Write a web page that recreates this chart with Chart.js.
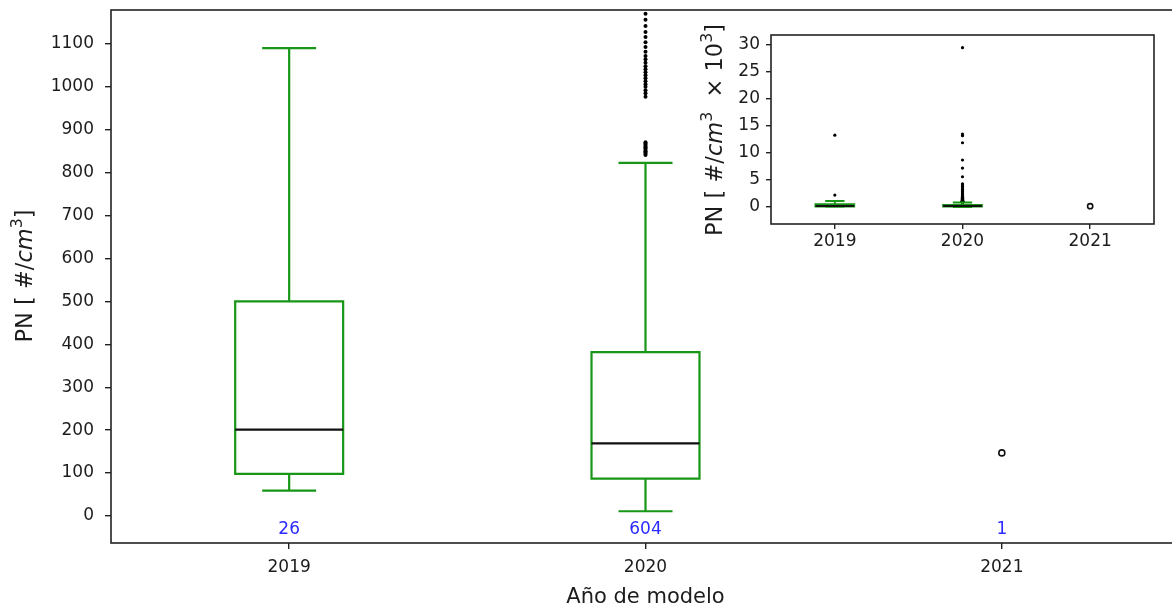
<!DOCTYPE html>
<html>
<head>
<meta charset="utf-8">
<script src="https://cdn.jsdelivr.net/npm/chart.js@4.4.1/dist/chart.umd.min.js"></script>
<style>
  html, body { margin: 0; padding: 0; background: #fff; overflow: hidden; }
  #wrap { position: relative; width: 1172px; height: 612px; overflow: hidden; background: #fff; }
  #main { position: absolute; left: 0; top: 0; width: 1200px; height: 612px; }
  #inset { position: absolute; left: 680px; top: 10px; width: 492px; height: 260px; }
</style>
</head>
<body>
<div id="wrap">
  <canvas id="main" width="1200" height="612"></canvas>
  <canvas id="inset" width="492" height="260"></canvas>
</div>
<script>
// PN particle number by model year, values in #/cm³
const years = ['2019', '2020', '2021'];
const counts = [26, 604, 1];
const q1 = [98, 87, null];
const median = [201, 169, null];
const q3 = [500, 382, null];
const whiskerLow = [59, 11, null];
const whiskerHigh = [1090, 823, null];
const outliers2019 = [2200, 13300];
const outliers2020 = [
  841, 844, 847, 850, 853, 856, 859, 862, 865, 868, 871,
  977, 985, 992, 1000, 1006, 1013, 1020, 1027, 1034, 1041, 1048, 1056, 1064,
  1072, 1082, 1093, 1104, 1116, 1128, 1142, 1156, 1170,
  1200, 1240, 1290, 1350, 1420, 1500, 1600, 1700, 1820, 1950, 2100, 2250,
  2400, 2600, 2800, 3000, 3250, 3500, 3800, 4100, 4300,
  5600, 7200, 8700, 11900, 13200, 13500, 29500
];
const single2021 = [147];
const mainTicks = [0, 100, 200, 300, 400, 500, 600, 700, 800, 900, 1000, 1100];
const insetTicks = [0, 5, 10, 15, 20, 25, 30];

const GREEN = '#179617';
const TEXT = '#1c1c1c';
const FONT = '"DejaVu Sans", sans-serif';

function drawRich(ctx, parts, cx, cy, size) {
  ctx.save();
  ctx.translate(cx, cy);
  ctx.rotate(-Math.PI / 2);
  const fontFor = p => (p.italic ? 'italic ' : '') + (p.sup ? size * 0.7 : size) + 'px ' + FONT;
  let total = 0;
  parts.forEach(p => { ctx.font = fontFor(p); p.w = ctx.measureText(p.t).width; total += p.w; });
  let x = -total / 2;
  ctx.textAlign = 'left';
  ctx.textBaseline = 'alphabetic';
  ctx.fillStyle = TEXT;
  const base = size * 0.365;
  parts.forEach(p => {
    ctx.font = fontFor(p);
    ctx.fillText(p.t, x, base - (p.sup ? size * 0.45 : 0));
    x += p.w;
  });
  ctx.restore();
}

// box outlines, whiskers, caps and medians drawn from the summary arrays through the chart scales;
// the box width comes from the bar elements of dataset 0
function boxPlugin(k, lw) {
  return {
    id: 'boxParts',
    afterDatasetsDraw(chart) {
      const { ctx, chartArea, scales: { x, y } } = chart;
      const meta = chart.getDatasetMeta(0);
      ctx.save();
      ctx.beginPath();
      ctx.rect(chartArea.left, chartArea.top, chartArea.right - chartArea.left, chartArea.bottom - chartArea.top);
      ctx.clip();
      ctx.lineCap = 'butt';
      years.forEach((yr, i) => {
        if (q1[i] == null) return;
        const cx = x.getPixelForValue(i);
        const half = meta.data[i].width / 2;
        const cap = half / 2;
        const yq1 = y.getPixelForValue(q1[i] * k);
        const yq3 = y.getPixelForValue(q3[i] * k);
        const yHi = y.getPixelForValue(whiskerHigh[i] * k);
        const yLo = y.getPixelForValue(whiskerLow[i] * k);
        ctx.strokeStyle = GREEN;
        ctx.lineWidth = lw;
        ctx.beginPath();
        ctx.rect(cx - half, yq3, half * 2, yq1 - yq3);
        ctx.moveTo(cx, yq3);
        ctx.lineTo(cx, yHi);
        ctx.moveTo(cx - cap, yHi);
        ctx.lineTo(cx + cap, yHi);
        ctx.moveTo(cx, yq1);
        ctx.lineTo(cx, yLo);
        ctx.moveTo(cx - cap, yLo);
        ctx.lineTo(cx + cap, yLo);
        ctx.stroke();
        ctx.strokeStyle = '#111';
        ctx.beginPath();
        ctx.moveTo(cx - half, y.getPixelForValue(median[i] * k));
        ctx.lineTo(cx + half, y.getPixelForValue(median[i] * k));
        ctx.stroke();
      });
      ctx.restore();
    }
  };
}

const framePlugin = {
  id: 'frame',
  afterDraw(chart) {
    const { ctx, chartArea: a } = chart;
    ctx.save();
    ctx.strokeStyle = '#222';
    ctx.lineWidth = 1.6;
    ctx.strokeRect(a.left, a.top, a.right - a.left, a.bottom - a.top);
    ctx.restore();
  }
};

function datasets(k, dotR, ringR) {
  const pts = [];
  outliers2019.forEach(v => pts.push({ x: '2019', y: v * k }));
  outliers2020.forEach(v => pts.push({ x: '2020', y: v * k }));
  return [
    {
      type: 'bar',
      data: years.map((_, i) => q1[i] == null ? null : [q1[i] * k, q3[i] * k]),
      backgroundColor: 'rgba(255,255,255,0)',
      borderWidth: 0,
      barPercentage: 0.303,
      categoryPercentage: 1,
      grouped: false
    },
    {
      type: 'line',
      data: pts,
      showLine: false,
      pointRadius: dotR,
      pointBackgroundColor: '#000',
      pointBorderWidth: 0,
      pointHoverRadius: dotR
    },
    {
      type: 'line',
      data: single2021.map(v => ({ x: '2021', y: v * k })),
      showLine: false,
      pointRadius: ringR,
      pointBackgroundColor: '#fff',
      pointBorderColor: '#111',
      pointBorderWidth: 1.6
    }
  ];
}

function scalesFor(yMin, yMax, ticks, yWidth, xHeight, tickLen, yPad, xPad) {
  return {
    x: {
      type: 'category',
      labels: years,
      offset: true,
      border: { display: false },
      grid: { display: true, offset: false, drawOnChartArea: false, drawTicks: true, tickLength: tickLen, color: '#222', lineWidth: 1.4 },
      ticks: { color: TEXT, font: { family: FONT, size: 17 }, padding: xPad, maxRotation: 0 },
      afterFit(s) { s.height = xHeight; s.paddingLeft = 0; s.paddingRight = 0; }
    },
    y: {
      type: 'linear',
      min: yMin,
      max: yMax,
      border: { display: false },
      grid: { display: true, drawOnChartArea: false, drawTicks: true, tickLength: tickLen, color: '#222', lineWidth: 1.4 },
      ticks: { color: TEXT, font: { family: FONT, size: 17 }, padding: yPad, autoSkip: false, callback: v => String(v) },
      afterBuildTicks(s) { s.ticks = ticks.map(v => ({ value: v })); },
      afterFit(s) { s.width = yWidth; s.paddingTop = 0; s.paddingBottom = 0; }
    }
  };
}

const mainLabels = {
  id: 'mainLabels',
  afterDraw(chart) {
    const { ctx, scales: { x, y } } = chart;
    ctx.save();
    ctx.fillStyle = '#2b2bff';
    ctx.font = '17px ' + FONT;
    ctx.textAlign = 'center';
    ctx.textBaseline = 'middle';
    counts.forEach((c, i) => ctx.fillText(String(c), x.getPixelForValue(i), y.getPixelForValue(-32)));
    ctx.fillStyle = TEXT;
    ctx.font = '21px ' + FONT;
    ctx.fillText('Año de modelo', x.getPixelForValue(1), 598);
    ctx.restore();
    drawRich(ctx, [
      { t: 'PN [ #/' }, { t: 'cm', italic: true }, { t: '3', sup: true }, { t: ']' }
    ], 24, 276, 22.5);
  }
};

const insetLabels = {
  id: 'insetLabels',
  beforeDraw(chart) {
    const { ctx, chartArea: a } = chart;
    ctx.save();
    ctx.fillStyle = '#fff';
    ctx.fillRect(a.left, a.top, a.right - a.left, a.bottom - a.top);
    ctx.restore();
  },
  afterDraw(chart) {
    drawRich(chart.ctx, [
      { t: 'PN [ #/' }, { t: 'cm', italic: true }, { t: '3', sup: true },
      { t: '  × 10' }, { t: '3', sup: true }, { t: ']' }
    ], 34, 120, 22.5);
  }
};

new Chart(document.getElementById('main'), {
  type: 'bar',
  data: { labels: years, datasets: datasets(1, 2, 3) },
  options: {
    responsive: false,
    animation: false,
    events: [],
    layout: { padding: { left: 0, top: 10, right: 20, bottom: 0 } },
    plugins: { legend: { display: false }, tooltip: { enabled: false } },
    scales: scalesFor(-63, 1179, mainTicks, 111, 69, 6, 11, 8)
  },
  plugins: [boxPlugin(1, 2.2), framePlugin, mainLabels]
});

new Chart(document.getElementById('inset'), {
  type: 'bar',
  data: { labels: years, datasets: datasets(1 / 1000, 1.6, 2.6) },
  options: {
    responsive: false,
    animation: false,
    events: [],
    layout: { padding: { left: 0, top: 25, right: 18, bottom: 0 } },
    plugins: { legend: { display: false }, tooltip: { enabled: false } },
    scales: scalesFor(-3.15, 31.85, insetTicks, 91, 46, 5, 6, 2)
  },
  plugins: [insetLabels, boxPlugin(1 / 1000, 2), framePlugin]
});
</script>
</body>
</html>
